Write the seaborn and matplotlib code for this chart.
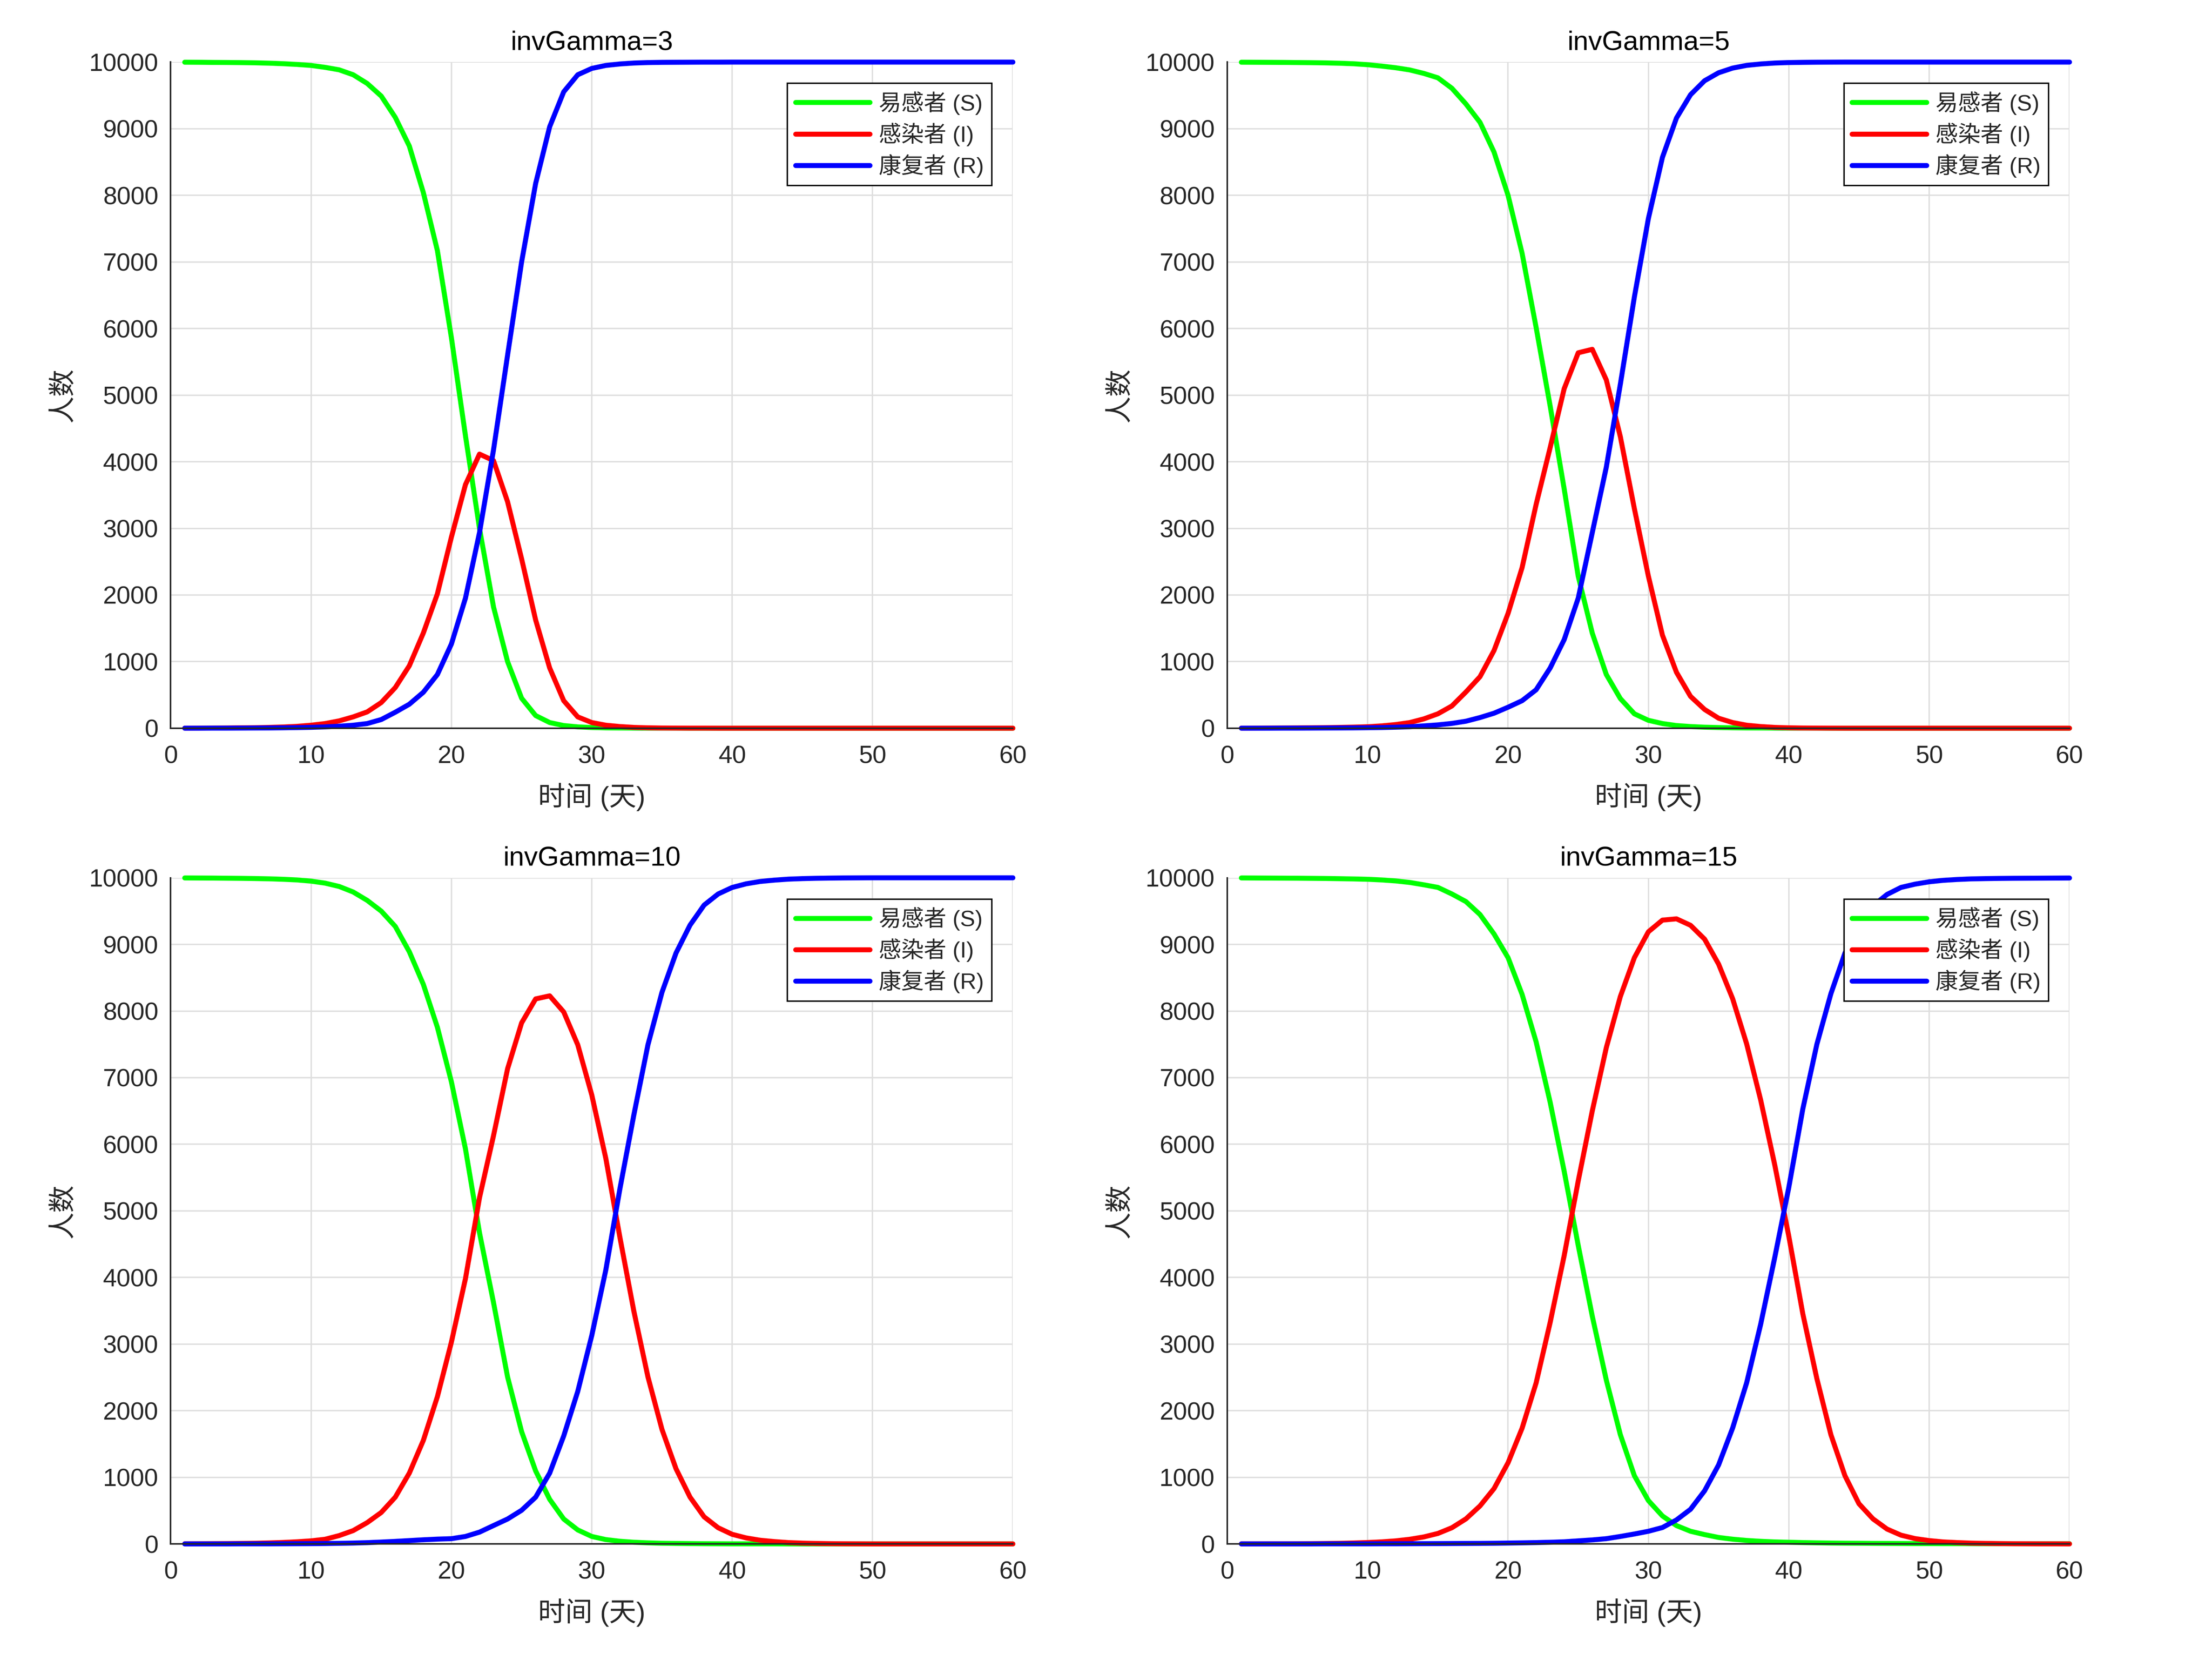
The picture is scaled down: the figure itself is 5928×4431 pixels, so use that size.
import matplotlib
matplotlib.use("Agg")
import matplotlib.pyplot as plt
import seaborn as sns
import numpy as np

# ---------------- data ----------------
days = list(range(1, 61))
titles = ["invGamma=3", "invGamma=5", "invGamma=10", "invGamma=15"]
series_labels = ["易感者 (S)", "感染者 (I)", "康复者 (R)"]
x_ticks = [0, 10, 20, 30, 40, 50, 60]
y_ticks = [0, 1000, 2000, 3000, 4000, 5000, 6000, 7000, 8000, 9000, 10000]

S1 = [9998, 9997, 9995, 9994, 9992, 9989, 9984, 9976, 9965, 9950,
      9921, 9884, 9810, 9679, 9490, 9170, 8740, 8040, 7170, 5860,
      4390, 3000, 1820, 1000, 450, 190, 85, 40, 20, 10,
      5, 3, 2, 1, 1, 1, 0, 0, 0, 0,
      0, 0, 0, 0, 0, 0, 0, 0, 0, 0,
      0, 0, 0, 0, 0, 0, 0, 0, 0, 0]
I1 = [1, 2, 3, 4, 6, 8, 12, 18, 28, 45,
      70, 110, 170, 245, 385, 610, 937, 1430, 2018, 2870,
      3657, 4115, 4017, 3400, 2543, 1625, 904, 413, 170, 85,
      45, 25, 12, 6, 3, 2, 1, 1, 0, 0,
      0, 0, 0, 0, 0, 0, 0, 0, 0, 0,
      0, 0, 0, 0, 0, 0, 0, 0, 0, 0]
R1 = [0, 0, 1, 1, 2, 3, 4, 6, 9, 13,
      20, 30, 45, 70, 130, 240, 360, 540, 806, 1265,
      1953, 2936, 4180, 5600, 7000, 8178, 9030, 9554, 9810, 9905,
      9950, 9972, 9986, 9993, 9996, 9997, 9998, 9999, 9999, 10000,
      10000, 10000, 10000, 10000, 10000, 10000, 10000, 10000, 10000, 10000,
      10000, 10000, 10000, 10000, 10000, 10000, 10000, 10000, 10000, 10000]

S2 = [9998, 9997, 9996, 9995, 9993, 9991, 9988, 9983, 9975, 9961,
      9940, 9915, 9882, 9830, 9764, 9607, 9371, 9096, 8650, 8000,
      7130, 6016, 4836, 3591, 2280, 1428, 806, 445, 216, 118,
      70, 40, 25, 15, 10, 6, 4, 3, 2, 1,
      1, 1, 0, 0, 0, 0, 0, 0, 0, 0,
      0, 0, 0, 0, 0, 0, 0, 0, 0, 0]
I2 = [1, 2, 3, 4, 5, 7, 9, 12, 16, 22,
      35, 55, 85, 140, 216, 334, 544, 773, 1166, 1723,
      2411, 3360, 4213, 5098, 5636, 5688, 5229, 4377, 3296, 2280,
      1396, 839, 478, 282, 150, 85, 45, 25, 12, 6,
      3, 2, 1, 0, 0, 0, 0, 0, 0, 0,
      0, 0, 0, 0, 0, 0, 0, 0, 0, 0]
R2 = [0, 0, 0, 1, 1, 2, 3, 4, 5, 7,
      10, 15, 22, 35, 50, 72, 105, 160, 225, 315,
      413, 577, 904, 1330, 1953, 2936, 3919, 5164, 6474, 7654,
      8571, 9161, 9510, 9720, 9840, 9910, 9951, 9972, 9986, 9993,
      9996, 9998, 9999, 10000, 10000, 10000, 10000, 10000, 10000, 10000,
      10000, 10000, 10000, 10000, 10000, 10000, 10000, 10000, 10000, 10000]

S3 = [9998, 9997, 9996, 9994, 9992, 9989, 9985, 9978, 9968, 9950,
      9920, 9870, 9787, 9661, 9500, 9270, 8890, 8399, 7756, 6936,
      5930, 4672, 3622, 2507, 1686, 1096, 669, 374, 210, 112,
      65, 40, 25, 16, 10, 7, 5, 3, 2, 1,
      1, 1, 1, 0, 0, 0, 0, 0, 0, 0,
      0, 0, 0, 0, 0, 0, 0, 0, 0, 0]
I3 = [2, 3, 4, 5, 7, 10, 15, 22, 32, 46,
      70, 125, 200, 320, 472, 702, 1063, 1555, 2211, 3031,
      3983, 5197, 6130, 7133, 7822, 8182, 8228, 7986, 7493, 6739,
      5787, 4606, 3491, 2507, 1719, 1129, 702, 407, 243, 144,
      90, 55, 35, 20, 12, 7, 4, 2, 1, 0,
      0, 0, 0, 0, 0, 0, 0, 0, 0, 0]
R3 = [0, 0, 0, 0, 1, 1, 1, 2, 3, 4,
      6, 9, 13, 19, 28, 38, 50, 62, 72, 79,
      112, 177, 276, 374, 505, 702, 1063, 1621, 2290, 3130,
      4114, 5328, 6444, 7493, 8281, 8870, 9290, 9590, 9757, 9855,
      9910, 9945, 9965, 9980, 9988, 9993, 9996, 9998, 9999, 10000,
      10000, 10000, 10000, 10000, 10000, 10000, 10000, 10000, 10000, 10000]

S4 = [9998, 9997, 9996, 9995, 9994, 9992, 9990, 9987, 9983, 9978,
      9968, 9953, 9930, 9895, 9856, 9757, 9643, 9449, 9157, 8801,
      8250, 7537, 6630, 5593, 4480, 3420, 2460, 1640, 1024, 650,
      420, 275, 190, 140, 97, 71, 52, 39, 30, 25,
      20, 16, 13, 11, 10, 8, 7, 6, 5, 5,
      4, 4, 4, 3, 3, 3, 3, 3, 3, 3]
I4 = [1, 1, 2, 2, 3, 4, 6, 9, 14, 21,
      31, 46, 70, 105, 157, 243, 376, 570, 830, 1218,
      1737, 2417, 3325, 4329, 5450, 6500, 7450, 8218, 8801, 9190,
      9365, 9384, 9287, 9080, 8704, 8185, 7505, 6662, 5690, 4621,
      3454, 2482, 1640, 1024, 603, 376, 223, 131, 80, 50,
      30, 20, 12, 8, 5, 3, 2, 1, 1, 0]
R4 = [0, 0, 0, 0, 0, 0, 1, 1, 1, 1,
      2, 2, 3, 4, 5, 6, 7, 8, 10, 13,
      16, 20, 25, 32, 46, 60, 79, 112, 149, 190,
      246, 360, 520, 797, 1186, 1740, 2420, 3300, 4300, 5350,
      6530, 7500, 8260, 8870, 9300, 9580, 9750, 9856, 9905, 9940,
      9962, 9975, 9984, 9988, 9991, 9993, 9994, 9995, 9996, 9997]

panels = [(S1, I1, R1), (S2, I2, R2), (S3, I3, R3), (S4, I4, R4)]
colors = ["#00ff00", "#ff0000", "#0000ff"]

# ---------------- style ----------------
sns.set_style("white")
plt.rcParams['font.family'] = ['Liberation Sans', 'Noto Sans CJK SC', 'DejaVu Sans']
plt.rcParams['axes.unicode_minus'] = False

W, H = 1568.0, 1172.0
fig = plt.figure(figsize=(5928 / 300, 4431 / 300), dpi=300)
positions = [
    [121 / W, 1 - 516 / H, 597 / W, 472 / H],
    [870 / W, 1 - 516 / H, 597 / W, 472 / H],
    [121 / W, 1 - 1094 / H, 597 / W, 472 / H],
    [870 / W, 1 - 1094 / H, 597 / W, 472 / H],
]
axis_col = (0.15, 0.15, 0.15)

for k, (pos, data, title) in enumerate(zip(positions, panels, titles)):
    ax = fig.add_axes(pos)
    for vals, col, lab in zip(data, colors, series_labels):
        sns.lineplot(x=days, y=vals, ax=ax, color=col, linewidth=3.2,
                     label=lab, clip_on=False, estimator=None)
    ax.set_xlim(0, 60)
    ax.set_ylim(0, 10000)
    ax.set_xticks(x_ticks)
    ax.set_yticks(y_ticks)
    ax.set_xticklabels([str(v) for v in x_ticks])
    ax.set_yticklabels([str(v) for v in y_ticks])
    ax.grid(True, color="#dedede", linewidth=0.9)
    ax.set_axisbelow(True)
    for s in ["top", "right"]:
        ax.spines[s].set_visible(False)
    for s in ["left", "bottom"]:
        ax.spines[s].set_color(axis_col)
        ax.spines[s].set_linewidth(1.0)
    ax.tick_params(axis="both", direction="in", length=5, width=1.0,
                   colors=axis_col, labelsize=16, labelcolor="#262626")
    ax.tick_params(axis="x", pad=11)
    ax.tick_params(axis="y", pad=8)
    ax.set_title(title, fontsize=17.5, pad=8, color="black")
    ax.set_xlabel("时间 (天)", fontsize=17.5, color="#262626")
    ax.set_ylabel("人数", fontsize=17.5, color="#262626")
    ax.xaxis.set_label_coords(0.5, -0.082)
    ax.yaxis.set_label_coords(-(121 - 54) / 597, 0.5)
    leg = ax.legend(loc="upper right", bbox_to_anchor=(0.975, 0.968),
                    borderaxespad=0, fontsize=14.5, frameon=True,
                    fancybox=False, framealpha=1, edgecolor="black",
                    handlelength=3.3, handletextpad=0.4, labelspacing=0.35,
                    borderpad=0.35)
    leg.get_frame().set_linewidth(0.9)

fig.savefig("out.png", dpi=300, facecolor="white")
